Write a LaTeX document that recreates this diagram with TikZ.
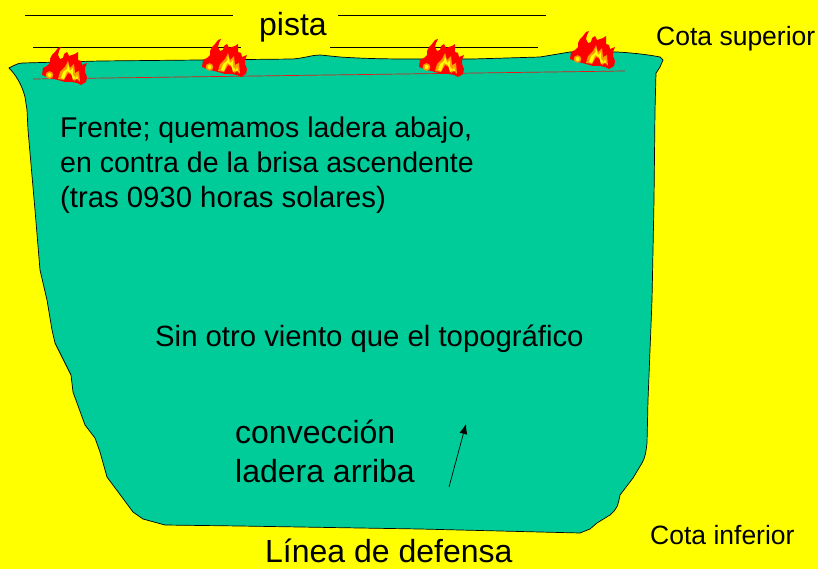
\documentclass[tikz,border=0pt]{standalone}
\usepackage{fontspec}
\setmainfont{Liberation Sans}
\usetikzlibrary{arrows.meta}
\definecolor{slopegreen}{HTML}{00CC99}
\definecolor{groundyellow}{HTML}{FFFF00}
\definecolor{flameorange}{HTML}{FF9900}
\begin{document}
\begin{tikzpicture}
		[x=1pt,y=-1pt,
		label29/.style ={anchor=base west, inner sep=0pt, align=left, font=\fontsize{28.5}{35}\selectfont},
		label32/.style ={anchor=base west, inner sep=0pt, align=left, font=\fontsize{32}{39}\selectfont},
		label26/.style ={anchor=base west, inner sep=0pt, font=\fontsize{26.5}{30}\selectfont},
		track/.style ={draw=black, line width=0.9pt},
		flame/.pic={
			\fill[red] (1,28) -- (2,21) -- (6,19) -- (9,16) -- (9,12) -- (11,8) -- (14,5) -- (17,1) -- (20,0) -- (18,4) -- (17,8) -- (19,12) -- (22,11) -- (23,7) -- (26,5) -- (28,9) -- (31,8) -- (34,7) -- (37,5) -- (37,13) -- (40,14) -- (41,18) -- (46,16) -- (44,21) -- (44,25) -- (46,30) -- (45,35) -- (40,38) -- (36,36) -- (31,35) -- (24,35) -- (17,33) -- (9,31) -- cycle;
			\fill[flameorange] (17,32) -- (19,25) -- (24,20) -- (27,14) -- (29,21) -- (33,17) -- (34,26) -- (38,24) -- (39,35) -- (36,32) -- (33,34) -- (31,28) -- (27,26) -- (23,33) -- cycle;
			\fill[groundyellow] (20,31) -- (22,25) -- (26,22) -- (27,17) -- (29,24) -- (32,21) -- (32,28) -- (35,31) -- (32,33) -- (30,26) -- (26,24) -- (23,32) -- cycle;
			\fill[groundyellow] (36,27) -- (37,32) -- (35,32) -- cycle;
			\fill[flameorange] (8.5,28) circle (3.8);
			\fill[groundyellow] (8.5,28) circle (2);
		},
		]

		\useasboundingbox (0,0) rectangle (818,569);
		\fill[groundyellow] (0,0) rectangle (818,569);

		\draw[track] (25,15) -- (233,15);
		\draw[track] (33,47) -- (241,47);
		\draw[track] (338,15) -- (546,15);
		\draw[track] (330,47) -- (538,47);

		\draw[fill=slopegreen, line width=0.7pt]
		(9,68) .. controls (15,65) and (18,63) .. (23,63)
		-- (100,61) -- (200,60) -- (293,59)
		.. controls (305,58) and (312,55) .. (320,55)
		-- (340,57) .. controls (370,59) and (395,59) .. (417,59)
		-- (473,59) -- (540,57) -- (570,52) -- (617,52)
		.. controls (635,53) and (650,55) .. (660,57)
		-- (663,60) -- (660,67) -- (656,73)
		-- (655,110) -- (654,200) -- (652,300) -- (648,400) -- (647,443)
		.. controls (646,452) and (645,458) .. (642,463)
		-- (633,478) -- (620,495)
		.. controls (618,505) and (618,508) .. (610,515)
		-- (597,523) -- (590,529) -- (580,533) -- (420,529) -- (240,526) -- (165,525)
		-- (143,519) -- (133,512) -- (107,477) -- (100,452) -- (95,438) -- (85,425)
		-- (73,392) -- (71,375) -- (55,343) -- (52,330) -- (47,300) -- (40,270)
		-- (35,210) -- (28,130) -- (27,110) -- (25,97)
		.. controls (22,85) and (16,75) .. (9,68) -- cycle;

		\draw[red!80!gray, line width=0.7pt] (33,79) -- (625,71);

		\path (41,47) pic {flame};
		\path (201,39) pic {flame};
		\path (418,39) pic {flame};
		\path (569,31) pic {flame};

		\draw (259,36) node[label32] (pista) {pista};
		\draw (656,46) node[label26] (upper) {Cota superior};
		\draw (650,544) node[label26] (lower) {Cota inferior};
		\draw (60,207.5) node[label29] (front) {Frente; quemamos ladera abajo,\\en contra de la brisa ascendente\\\fontsize{29.3}{35}\selectfont (tras 0930 horas solares)};
		\draw (155,346) node[label29, font=\fontsize{29.3}{35}\selectfont] (wind) {Sin otro viento que el topográfico};
		\draw (235,482) node[label32] (convection) {convección\\ladera arriba};
		\draw (265,562) node[label32] (defence) {Línea de defensa};

		\coordinate (tail) at (449,487);
		\coordinate (tip) at (466,424);
		\path[-{Latex[length=10pt,width=8pt]}, line width=0.7pt]
		(tail) edge node {} (tip);
	\end{tikzpicture}
\end{document}
